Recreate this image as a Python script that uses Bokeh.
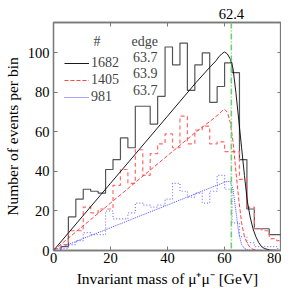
from bokeh.plotting import figure
from bokeh.models import (Range1d, LinearAxis, FixedTicker, Legend, LegendItem,
                          Label, Span, CustomJSTickFormatter)
from bokeh.embed import file_html
from bokeh.resources import INLINE

# ---------------- data ----------------
bin_edges = [0, 2.61, 5.22, 7.83, 10.44, 13.05, 15.66, 18.27, 20.88, 23.49, 26.10,
             28.71, 31.32, 33.93, 36.54, 39.15, 41.76, 44.37, 46.98, 49.59, 52.20,
             54.81, 57.42, 60.03, 62.64, 65.25, 67.86, 70.47, 73.08, 75.69, 78.30, 80.0]

counts_1682 = [0, 2, 17, 26, 31, 30, 29, 41, 46, 57, 52, 73, 73, 64, 78, 103, 94, 105,
               81, 94, 100, 75, 83, 95, 90, 46, 21, 11, 11, 8, 8]
counts_1405 = [1, 3, 10, 10, 22, 19, 21, 21, 33, 41, 34, 51, 38, 49, 54, 59, 52, 68,
               54, 61, 63, 54, 55, 50, 50, 36, 22, 11, 10, 6, 5]
counts_981 = [0, 1, 3, 5, 9, 8, 8, 20, 16, 16, 19, 24, 23, 22, 23, 26, 34, 30,
              27, 29, 24, 30, 38, 31, 14, 7, 4, 2, 2, 2, 1]

fit_x_1682 = [0, 10, 20, 30, 40, 50, 55, 57, 58, 59, 60, 61, 62, 63, 64, 65, 66, 67,
              68, 69, 70, 71, 72, 73, 74, 76, 80]
fit_y_1682 = [0, 17, 34, 51, 68, 85, 93, 96, 98, 99.5, 100.5, 99.5, 97, 92, 80, 66, 52,
              38, 25, 17, 11, 7, 4, 2, 1, 0.2, 0]

fit_x_1405 = [0, 10, 20, 30, 40, 50, 55, 58, 59, 60, 61, 62, 63, 64, 65, 66, 67, 68,
              69, 70, 72, 80]
fit_y_1405 = [0, 12, 24, 36, 48, 60, 65.5, 69, 70.5, 71.5, 70, 65, 55, 40, 26, 14, 7,
              3.5, 1.5, 0.6, 0.1, 0]

fit_x_981 = [0, 10, 20, 30, 40, 50, 55, 60, 61, 62, 63, 64, 65, 66, 67, 68, 70, 80]
fit_y_981 = [0, 5.8, 11.5, 17.3, 23, 28.8, 31.7, 34.5, 35, 35, 31, 20, 9, 3, 1, 0.3, 0, 0]

edge_marker = 62.4
legend_counts = ["1682", "1405", "981"]
legend_edges = ["63.7", "63.9", "63.7"]
x_ticks = [0, 20, 40, 60, 80]
y_ticks = [0, 20, 40, 60, 80, 100]

FONT = "Liberation Serif"
FRAME = "#7a7a7a"

p = figure(frame_width=228, frame_height=228, output_backend="svg",
           toolbar_location=None,
           x_range=Range1d(0, 80), y_range=Range1d(0, 115.4),
           x_axis_label="Invariant mass of μ⁺μ⁻ [GeV]",
           y_axis_label="Number of events per bin",
           min_border_left=52, min_border_right=0, min_border_top=22,
           min_border_bottom=0)
p.xgrid.visible = False
p.ygrid.visible = False
p.outline_line_color = FRAME
p.outline_line_width = 1.3
p.background_fill_color = "white"

p.xaxis.ticker = FixedTicker(ticks=x_ticks)
p.yaxis.ticker = FixedTicker(ticks=y_ticks)


def style_axis(ax):
    ax.axis_line_color = FRAME
    ax.axis_line_width = 1.3
    ax.major_tick_line_color = FRAME
    ax.major_tick_line_width = 1.0
    ax.major_tick_in = 4
    ax.major_tick_out = 0
    ax.minor_tick_line_color = None
    ax.major_label_text_font = FONT
    ax.major_label_text_font_size = "14.5px"
    ax.major_label_text_color = "black"
    ax.axis_label_text_font = FONT
    ax.axis_label_text_font_size = "15.5px"
    ax.axis_label_text_font_style = "normal"
    ax.axis_label_text_color = "black"


for ax in p.xaxis + p.yaxis:
    style_axis(ax)
p.xaxis.major_label_standoff = 2
p.xaxis.axis_label_standoff = 4
p.yaxis.major_label_standoff = 4
p.yaxis.axis_label_standoff = 4

top_axis = LinearAxis(ticker=FixedTicker(ticks=x_ticks + [edge_marker]),
                      formatter=CustomJSTickFormatter(
                          code="return Math.abs(tick - 62.4) < 1e-6 ? '62.4' : '';"))
style_axis(top_axis)
top_axis.major_label_standoff = 4
p.add_layout(top_axis, "above")

right_axis = LinearAxis(ticker=FixedTicker(ticks=y_ticks),
                        formatter=CustomJSTickFormatter(code="return '';"))
style_axis(right_axis)
right_axis.major_label_standoff = 0
p.add_layout(right_axis, "right")

# histograms (step outlines)
p.step(bin_edges, counts_1682 + [counts_1682[-1]], mode="after",
       line_color="#555555", line_width=1.2)
p.step(bin_edges, counts_1405 + [counts_1405[-1]], mode="after",
       line_color="#ff6a6a", line_width=1.2, line_dash="4 3")
p.step(bin_edges, counts_981 + [counts_981[-1]], mode="after",
       line_color="#7a7aff", line_width=1.2, line_dash="1 2")

# fit curves
r1 = p.line(fit_x_1682, fit_y_1682, line_color="black", line_width=0.9)
r2 = p.line(fit_x_1405, fit_y_1405, line_color="#ff3030", line_width=0.9,
            line_dash="4 2")
r3 = p.line(fit_x_981, fit_y_981, line_color="#3a3aff", line_width=0.9,
            line_dash="1 1")

p.add_layout(Span(location=edge_marker, dimension="height", line_color="#6fcf6f",
                  line_width=1.6, line_dash="6 2 1 2"))

legend = Legend(items=[LegendItem(label=legend_counts[0], renderers=[r1]),
                       LegendItem(label=legend_counts[1], renderers=[r2]),
                       LegendItem(label=legend_counts[2], renderers=[r3])],
                location=(11, 145), glyph_width=25, glyph_height=16,
                label_height=16, spacing=1, padding=0, margin=0,
                label_standoff=2, border_line_alpha=0, background_fill_alpha=0,
                label_text_font=FONT, label_text_font_size="14px")
p.add_layout(legend)

header_y = 105.8
row_y = [97.7, 89.6, 81.0]
p.add_layout(Label(x=14.0, y=header_y, text="#", text_font=FONT,
                   text_font_size="14px", text_baseline="middle"))
p.add_layout(Label(x=27.4, y=header_y, text="edge", text_font=FONT,
                   text_font_size="14px", text_baseline="middle"))
for yy, t in zip(row_y, legend_edges):
    p.add_layout(Label(x=27.9, y=yy, text=t, text_font=FONT,
                       text_font_size="14px", text_baseline="middle"))

open("out.html", "w").write(file_html(p, INLINE))
